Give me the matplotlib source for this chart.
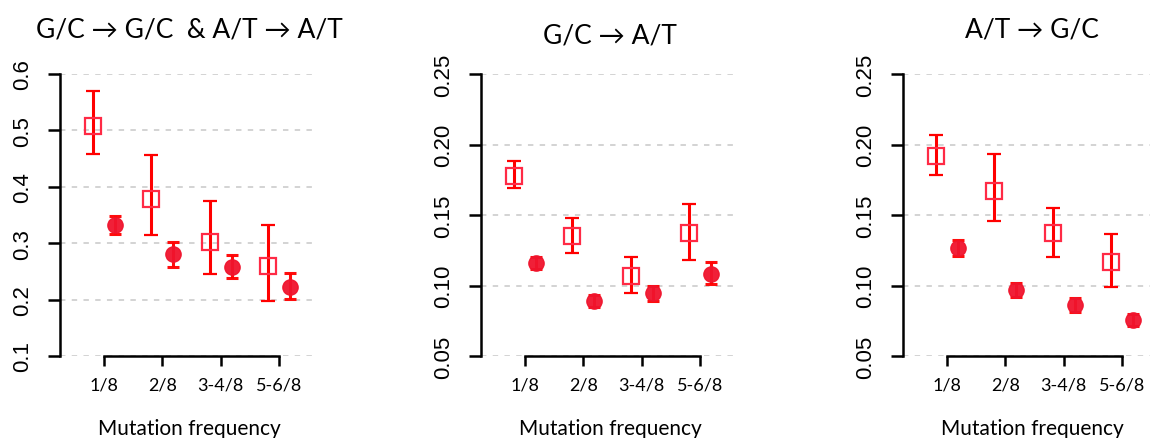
import numpy as np
import matplotlib.pyplot as plt

# mutation frequency classes
categories = ['1/8', '2/8', '3-4/8', '5-6/8']
titles = ['G/C \u2192 G/C  & A/T \u2192 A/T', 'G/C \u2192 A/T', 'A/T \u2192 G/C']
title_pads = [27, 23, 27]

# open squares: value, lower, upper
sq_val = [[0.508, 0.378, 0.302, 0.260],
          [0.178, 0.135, 0.107, 0.137],
          [0.192, 0.167, 0.137, 0.117]]
sq_lo = [[0.458, 0.314, 0.246, 0.198],
         [0.169, 0.123, 0.095, 0.118],
         [0.1785, 0.146, 0.120, 0.099]]
sq_hi = [[0.570, 0.457, 0.374, 0.333],
         [0.188, 0.148, 0.120, 0.158],
         [0.2065, 0.193, 0.155, 0.1365]]

# filled circles: value, lower, upper
ci_val = [[0.333, 0.281, 0.257, 0.223],
          [0.116, 0.089, 0.095, 0.108],
          [0.1265, 0.097, 0.086, 0.0755]]
ci_lo = [[0.317, 0.257, 0.238, 0.201],
         [0.112, 0.085, 0.089, 0.101],
         [0.121, 0.092, 0.081, 0.071]]
ci_hi = [[0.349, 0.303, 0.279, 0.248],
         [0.120, 0.093, 0.100, 0.117],
         [0.132, 0.102, 0.091, 0.080]]

y_ranges = [(0.1, 0.6), (0.05, 0.25), (0.05, 0.25)]
y_ticks = [[0.1, 0.2, 0.3, 0.4, 0.5, 0.6],
           [0.05, 0.10, 0.15, 0.20, 0.25],
           [0.05, 0.10, 0.15, 0.20, 0.25]]
y_fmt = ['%.1f', '%.2f', '%.2f']

lefts = [60, 481, 903]
label_font = ['Lato', 'DejaVu Sans']

fig = plt.figure(figsize=(11.5, 4.39), dpi=100)
x = np.arange(1, 5)

for i in range(3):
    ax = fig.add_axes([lefts[i] / 1150, 82 / 439, 258 / 1150, 282 / 439])
    lo, hi = y_ranges[i]
    ax.set_xlim(0.245, 4.67)
    ax.set_ylim(lo, hi)
    for t in y_ticks[i]:
        ax.axhline(t, color='#d0d0d0', lw=1.3, ls=(0, (3, 3.5)), zorder=0)

    sv = np.array(sq_val[i])
    ax.errorbar(x - 0.19, sv, yerr=[sv - np.array(sq_lo[i]), np.array(sq_hi[i]) - sv],
                fmt='s', ms=11.5, mfc='none', mec='#ff2a45', mew=1.6,
                ecolor='red', elinewidth=2.2, capsize=5, capthick=2.2, clip_on=False)
    cv = np.array(ci_val[i])
    ax.errorbar(x + 0.19, cv, yerr=[cv - np.array(ci_lo[i]), np.array(ci_hi[i]) - cv],
                fmt='o', ms=11, mfc='#f0142d', mec='#f0142d', alpha=0.95,
                ecolor='red', elinewidth=2.2, capsize=4.5, capthick=2.2, clip_on=False)

    ax.spines['top'].set_visible(False)
    ax.spines['right'].set_visible(False)
    ax.spines['left'].set_bounds(lo, hi)
    ax.spines['bottom'].set_bounds(1, 4)
    ax.spines['left'].set_linewidth(1.8)
    ax.spines['bottom'].set_linewidth(1.8)

    ax.set_yticks(y_ticks[i])
    ax.set_yticklabels([y_fmt[i] % t for t in y_ticks[i]], rotation=90, va='center',
                       fontsize=16, family='Liberation Sans')
    ax.set_xticks(x)
    ax.set_xticklabels(categories, fontsize=13, family=label_font)
    ax.tick_params(axis='y', length=9, width=1.8, pad=10)
    ax.tick_params(axis='x', length=7, width=1.8, pad=8)
    ax.set_xlabel('Mutation frequency', fontsize=15, family=label_font, labelpad=18)
    ax.set_title(titles[i], fontsize=19, family=label_font, pad=title_pads[i])

fig.savefig('out.png', dpi=100)
